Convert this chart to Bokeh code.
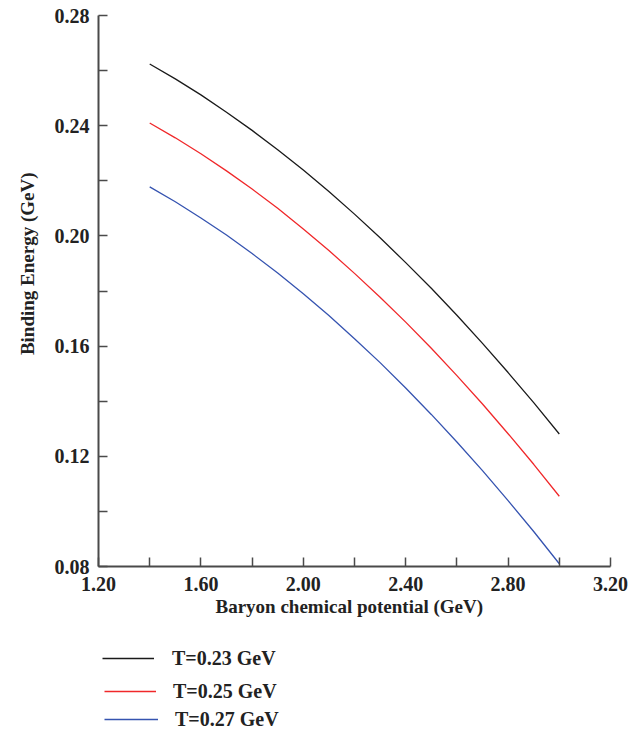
from bokeh.embed import file_html
from bokeh.layouts import column
from bokeh.models import (ColumnDataSource, CustomJSTickFormatter, FixedTicker,
                          Legend, LegendItem, Range1d, Title)
from bokeh.plotting import figure
from bokeh.resources import INLINE

# Baryon chemical potential (GeV)
mu_b = [1.40, 1.50, 1.60, 1.70, 1.80, 1.90, 2.00, 2.10, 2.20,
        2.30, 2.40, 2.50, 2.60, 2.70, 2.80, 2.90, 3.00]

# Binding energy (GeV) for three temperatures
be_t023 = [0.2624, 0.2570, 0.2512, 0.2449, 0.2383, 0.2313, 0.2239, 0.2161, 0.2079,
           0.1993, 0.1903, 0.1810, 0.1712, 0.1610, 0.1504, 0.1395, 0.1281]
be_t025 = [0.2410, 0.2356, 0.2298, 0.2236, 0.2170, 0.2100, 0.2025, 0.1947, 0.1864,
           0.1777, 0.1687, 0.1592, 0.1493, 0.1390, 0.1282, 0.1171, 0.1055]
be_t027 = [0.2178, 0.2124, 0.2065, 0.2003, 0.1936, 0.1865, 0.1790, 0.1711, 0.1627,
           0.1540, 0.1448, 0.1352, 0.1252, 0.1148, 0.1039, 0.0927, 0.0810]

series_labels = ["T=0.23 GeV", "T=0.25 GeV", "T=0.27 GeV"]
series_colors = ["#1a1a1a", "#f0282a", "#3553b0"]

x_major = [1.20, 1.60, 2.00, 2.40, 2.80, 3.20]
x_minor = [1.40, 1.80, 2.20, 2.60, 3.00]
y_major = [0.08, 0.12, 0.16, 0.20, 0.24, 0.28]
y_minor = [0.10, 0.14, 0.18, 0.22, 0.26]

FONT = "Liberation Serif"
AXIS_COLOR = "#4a4a4a"
TEXT_COLOR = "#222222"

p = figure(width=637, height=625, output_backend="svg", toolbar_location=None,
           x_range=Range1d(1.20, 3.20), y_range=Range1d(0.08, 0.28),
           min_border_left=98, min_border_right=27, min_border_top=15,
           min_border_bottom=59)
p.outline_line_color = None
p.grid.visible = False

p.xaxis.ticker = FixedTicker(ticks=x_major, minor_ticks=x_minor)
p.yaxis.ticker = FixedTicker(ticks=y_major, minor_ticks=y_minor)
for ax in (p.xaxis, p.yaxis):
    ax.formatter = CustomJSTickFormatter(code="return tick.toFixed(2);")
    ax.axis_line_color = AXIS_COLOR
    ax.axis_line_width = 2
    ax.major_tick_line_color = AXIS_COLOR
    ax.minor_tick_line_color = AXIS_COLOR
    ax.major_tick_line_width = 1.5
    ax.minor_tick_line_width = 1.5
    ax.major_tick_in = 9
    ax.major_tick_out = 0
    ax.minor_tick_in = 9
    ax.minor_tick_out = 0
    ax.major_label_text_font = FONT
    ax.major_label_text_font_style = "bold"
    ax.major_label_text_font_size = "20px"
    ax.major_label_text_color = TEXT_COLOR
p.xaxis.major_label_standoff = 10
p.yaxis.major_label_standoff = 9

src = ColumnDataSource(dict(mu=mu_b, a=be_t023, b=be_t025, c=be_t027))
for col, color in zip(["a", "b", "c"], series_colors):
    p.line("mu", col, source=src, line_color=color, line_width=1.3)

# axis titles
p.add_layout(Title(text="Baryon chemical potential (GeV)", align="left", offset=117,
                   standoff=0, text_font=FONT, text_font_style="bold",
                   text_font_size="19px", text_color=TEXT_COLOR), "below")
p.add_layout(Title(text="Binding Energy (GeV)", align="right", offset=157,
                   standoff=28, text_font=FONT, text_font_style="bold",
                   text_font_size="19px", text_color=TEXT_COLOR), "left")

# legend strip underneath the chart (its frame lines up with the chart frame)
lg_fig = figure(width=637, height=108, output_backend="svg", toolbar_location=None,
                x_range=Range1d(0, 1), y_range=Range1d(0, 1),
                x_axis_type=None, y_axis_type=None, min_border=0)
lg_fig.outline_line_color = None
lg_fig.grid.visible = False

nan = float("nan")
legend_pos = [(4, 63, 52, 18), (6, 30, 52, 17), (6, 2, 54, 17)]
for lab, color, (lx, ly, gw, st) in zip(series_labels, series_colors, legend_pos):
    r = lg_fig.line(x=[nan], y=[nan], line_color=color, line_width=1.3)
    lg = Legend(items=[LegendItem(label=lab, renderers=[r])], location=(lx, ly),
                padding=0, margin=0, border_line_color=None,
                background_fill_alpha=0, glyph_width=gw, glyph_height=24,
                label_height=24, label_standoff=st,
                label_text_font=FONT, label_text_font_style="bold",
                label_text_font_size="20px", label_text_color=TEXT_COLOR)
    lg_fig.add_layout(lg)

layout = column(p, lg_fig, spacing=0)
open("out.html", "w").write(file_html(layout, INLINE))
